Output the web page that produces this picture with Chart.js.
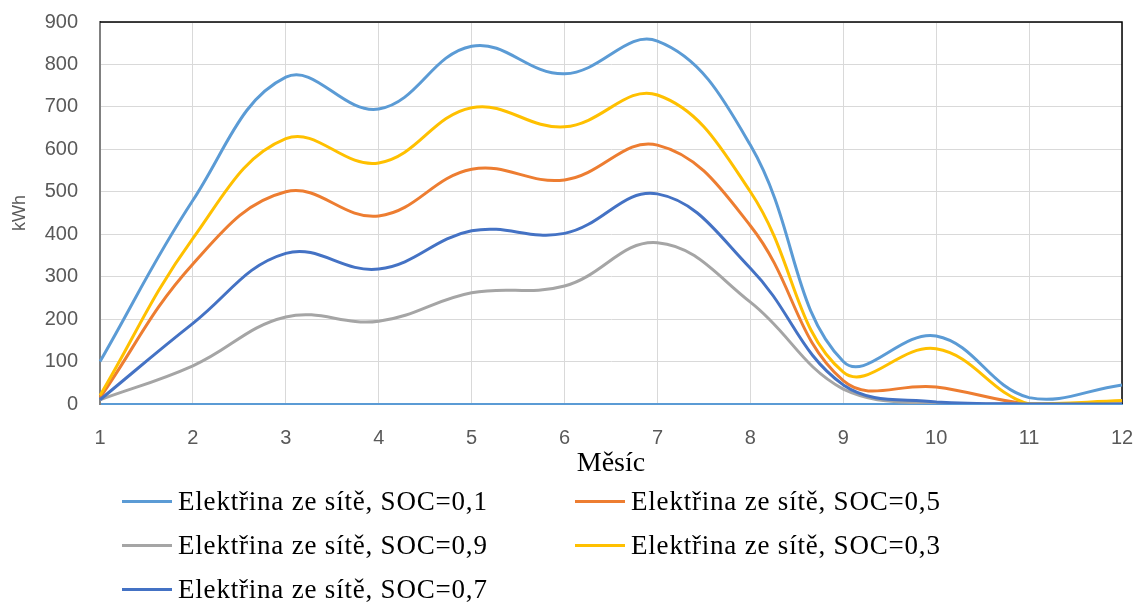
<!DOCTYPE html>
<html>
<head>
<meta charset="utf-8">
<script src="https://cdn.jsdelivr.net/npm/chart.js@4"></script>
<style>
  html, body { margin: 0; padding: 0; background: #fff; }
  #wrap { position: relative; width: 1136px; height: 603px; }
  #chartBox { position: absolute; left: 0; top: 0; width: 1136px; height: 480px; }
  #legend {
    position: absolute; left: 122px; top: 479px;
    display: grid; grid-template-columns: 453px 480px;
    font-family: 'Liberation Serif', 'Times New Roman', serif;
    font-size: 27px; letter-spacing: 0.8px; color: #000;
  }
  #legend .item { display: flex; align-items: center; height: 44px; white-space: nowrap; }
  #legend .swatch { width: 50px; height: 3px; margin-right: 6px; }
</style>
</head>
<body>
<div id="wrap">
  <div id="chartBox"><canvas id="gridChart"></canvas></div>
  <div id="legend"></div>
</div>
<script>
// months and monthly grid energy (kWh) per state-of-charge setting
const months = ['1', '2', '3', '4', '5', '6', '7', '8', '9', '10', '11', '12'];
const soc01 = [100, 480, 770, 695, 843, 778, 855, 610, 100, 160, 15, 45];
const soc05 = [15, 330, 500, 443, 553, 528, 610, 420, 55, 40, 0, 0];
const soc09 = [10, 90, 205, 195, 262, 278, 380, 240, 35, 0, 0, 0];
const soc03 = [20, 390, 625, 568, 698, 653, 728, 500, 75, 130, 0, 8];
const soc07 = [10, 190, 355, 318, 408, 402, 495, 320, 45, 5, 0, 0];
const seriesLabels = [
    'Elektřina ze sítě, SOC=0,1',
    'Elektřina ze sítě, SOC=0,5',
    'Elektřina ze sítě, SOC=0,9',
    'Elektřina ze sítě, SOC=0,3',
    'Elektřina ze sítě, SOC=0,7'
];
const seriesColors = ['#5b9bd5', '#ed7d31', '#a5a5a5', '#ffc000', '#4472c4'];
const seriesData = [soc01, soc05, soc09, soc03, soc07];

Chart.defaults.font.family = "'Liberation Sans', Arial, sans-serif";

// black frame on the top and right of the plot area
const frameLines = {
    id: 'frameLines',
    beforeDatasetsDraw(chart) {
        const { ctx, chartArea: a } = chart;
        ctx.save();
        ctx.strokeStyle = '#000';
        ctx.lineWidth = 1.5;
        ctx.beginPath();
        ctx.moveTo(a.left, a.top);
        ctx.lineTo(a.right, a.top);
        ctx.lineTo(a.right, a.bottom);
        ctx.stroke();
        ctx.restore();
    }
};

const gridChart = new Chart(document.getElementById('gridChart'), {
    type: 'line',
    data: {
        labels: months,
        datasets: seriesData.map((d, i) => ({
            label: seriesLabels[i],
            data: d,
            borderColor: seriesColors[i],
            backgroundColor: seriesColors[i],
            borderWidth: 3,
            pointRadius: 0,
            tension: 0.4,
            fill: false,
            order: seriesData.length - i
        }))
    },
    options: {
        responsive: true,
        maintainAspectRatio: false,
        animation: false,
        layout: { padding: { top: 22, right: 14, bottom: 0, left: 0 } },
        plugins: { legend: { display: false }, tooltip: { enabled: false } },
        scales: {
            x: {
                grid: { color: '#d9d9d9', drawTicks: false },
                border: { color: '#5b9bd5', width: 2 },
                ticks: { color: '#595959', font: { size: 20 }, padding: 22 },
                title: {
                    display: true, text: 'Měsíc', color: '#000',
                    font: { family: "'Liberation Serif', 'Times New Roman', serif", size: 28 },
                    padding: { top: 0, bottom: 0 }
                },
                afterFit(scale) {
                    scale.height = 76;
                    scale.paddingLeft = 0;
                    scale.paddingRight = 0;
                }
            },
            y: {
                min: 0,
                max: 900,
                grid: { color: '#d9d9d9', drawTicks: false },
                border: { color: '#808080', width: 2 },
                ticks: { stepSize: 100, color: '#595959', font: { size: 20 }, padding: 22 },
                title: {
                    display: true, text: 'kWh', color: '#595959',
                    font: { size: 18 },
                    padding: { top: 9, bottom: 0 }
                },
                afterFit(scale) {
                    scale.width = 100;
                    scale.paddingTop = 0;
                    scale.paddingBottom = 0;
                }
            }
        }
    },
    plugins: [frameLines]
});

// two-column legend under the chart
const legendEl = document.getElementById('legend');
gridChart.data.datasets.forEach(ds => {
    const item = document.createElement('div');
    item.className = 'item';
    const sw = document.createElement('span');
    sw.className = 'swatch';
    sw.style.background = ds.borderColor;
    const txt = document.createElement('span');
    txt.textContent = ds.label;
    item.appendChild(sw);
    item.appendChild(txt);
    legendEl.appendChild(item);
});
</script>
</body>
</html>
